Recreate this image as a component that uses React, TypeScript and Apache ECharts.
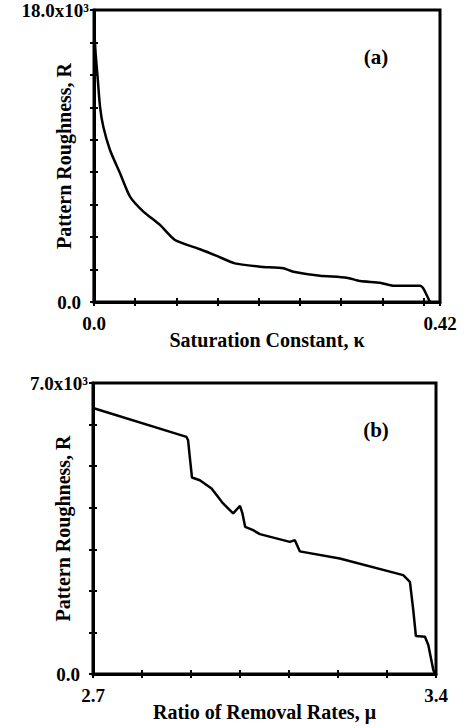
import React, { useEffect, useRef } from "react";
import * as echarts from "echarts";

// Panel (a): Saturation constant vs pattern roughness
const kappa = [0, 0.0008, 0.002, 0.004, 0.0073, 0.0113, 0.0194, 0.0316, 0.0437, 0.0599, 0.0801, 0.0983, 0.1287, 0.149, 0.171, 0.2015, 0.2298, 0.242, 0.2743, 0.3067, 0.3229, 0.3472, 0.3633, 0.3957, 0.3997, 0.4078];
const roughnessA = [0, 16300, 15300, 14100, 12040, 10800, 9370, 7930, 6490, 5570, 4750, 3820, 3250, 2840, 2380, 2180, 2080, 1870, 1620, 1500, 1290, 1190, 1005, 1005, 840, 0];

// Panel (b): Ratio of removal rates vs pattern roughness
const mu = [2.7, 2.8908, 2.894, 2.8975, 2.902, 2.918, 2.942, 2.9655, 2.986, 3.0, 3.005, 3.0105, 3.0268, 3.0405, 3.1017, 3.112, 3.122, 3.2036, 3.3331, 3.3468, 3.3536, 3.359, 3.3775, 3.3843, 3.3945, 3.398];
const roughnessB = [6400, 5703, 5623, 5222, 4727, 4662, 4462, 4102, 3862, 4045, 3862, 3540, 3460, 3364, 3179, 3220, 2950, 2780, 2379, 2218, 1538, 913, 896, 697, 96, 0];

// Tick labels (only end labels are printed)
const xLabelsA = ["0.0", "0.42"];
const yLabelsA = ["0.0", "18.0x10³"];
const xLabelsB = ["2.7", "3.4"];
const yLabelsB = ["0.0", "7.0x10³"];

const FONT = '"Liberation Serif", "Times New Roman", serif';

function endFormatter(min: number, max: number, labels: string[], richMin: boolean) {
  return (v: number) => {
    if (Math.abs(v - min) < 1e-9) return richMin ? `{b|${labels[0]}}` : labels[0];
    if (Math.abs(v - max) < 1e-9) return labels[1];
    return "";
  };
}

const tickLine = { color: "#000", width: 2 };

function mainX(gridIndex: number, min: number, max: number, interval: number, labels: string[], name: string) {
  return {
    type: "value",
    gridIndex,
    position: "bottom",
    min,
    max,
    interval,
    name,
    nameLocation: "middle",
    nameGap: 28,
    nameMoveOverlap: false,
    nameTextStyle: { fontFamily: FONT, fontWeight: "bold", fontSize: 20, color: "#000" },
    axisLine: { show: true, lineStyle: { color: "#000", width: 3 } },
    axisTick: { show: true, inside: false, length: 4, lineStyle: tickLine },
    axisLabel: {
      show: true,
      interval: 0,
      margin: 12,
      fontFamily: FONT,
      fontWeight: "bold",
      fontSize: 19,
      color: "#000",
      formatter: endFormatter(min, max, labels, false),
    },
    splitLine: { show: false },
  };
}

function innerX(gridIndex: number, min: number, max: number, interval: number) {
  return {
    type: "value",
    gridIndex,
    position: "bottom",
    offset: 0,
    min,
    max,
    interval,
    axisLine: { show: false },
    axisTick: { show: true, inside: true, length: 4, lineStyle: tickLine },
    axisLabel: { show: false },
    splitLine: { show: false },
  };
}

function mainY(gridIndex: number, min: number, max: number, interval: number, labels: string[], name: string) {
  return {
    type: "value",
    gridIndex,
    position: "left",
    min,
    max,
    interval,
    name,
    nameLocation: "middle",
    nameGap: 20,
    nameMoveOverlap: false,
    nameTextStyle: { fontFamily: FONT, fontWeight: "bold", fontSize: 20, color: "#000" },
    axisLine: { show: true, lineStyle: { color: "#000", width: 3 } },
    axisTick: { show: true, inside: false, length: 4, lineStyle: tickLine },
    axisLabel: {
      show: true,
      interval: 0,
      margin: 5,
      fontFamily: FONT,
      fontWeight: "bold",
      fontSize: 19,
      color: "#000",
      formatter: endFormatter(min, max, labels, true),
      rich: {
        b: { fontFamily: FONT, fontWeight: "bold", fontSize: 19, color: "#000", padding: [0, 8, 0, 0] },
      },
    },
    splitLine: { show: false },
  };
}

function innerY(gridIndex: number, min: number, max: number, interval: number) {
  return {
    type: "value",
    gridIndex,
    position: "left",
    offset: 0,
    min,
    max,
    interval,
    axisLine: { show: false },
    axisTick: { show: true, inside: true, length: 4, lineStyle: tickLine },
    axisLabel: { show: false },
    splitLine: { show: false },
  };
}

export default function App() {
  const ref = useRef<HTMLDivElement>(null);
  useEffect(() => {
    if (!ref.current) return;
    const chart = echarts.init(ref.current, null, { renderer: "svg" });
    const dataA = kappa.map((k, i) => [k, roughnessA[i]]);
    const dataB = mu.map((m, i) => [m, roughnessB[i]]);
    chart.setOption({
      animation: false,
      backgroundColor: "#fff",
      grid: [
        { left: 94, top: 10, width: 346, height: 292, show: true, borderColor: "#000", borderWidth: 3 },
        { left: 93, top: 383, width: 343, height: 291, show: true, borderColor: "#000", borderWidth: 3 },
      ],
      xAxis: [
        mainX(0, 0, 0.42, 0.05, xLabelsA, "Saturation Constant, κ"),
        innerX(0, 0, 0.42, 0.05),
        mainX(1, 2.7, 3.4, 0.1, xLabelsB, "Ratio of Removal Rates, μ"),
        innerX(1, 2.7, 3.4, 0.1),
      ],
      yAxis: [
        mainY(0, 0, 18000, 2000, yLabelsA, "Pattern Roughness, R"),
        innerY(0, 0, 18000, 2000),
        mainY(1, 0, 7000, 1000, yLabelsB, "Pattern Roughness, R"),
        innerY(1, 0, 7000, 1000),
      ],
      series: [
        {
          type: "line",
          xAxisIndex: 0,
          yAxisIndex: 0,
          data: dataA,
          showSymbol: false,
          smooth: 0.2,
          lineStyle: { color: "#000", width: 2.5 },
        },
        {
          type: "line",
          xAxisIndex: 2,
          yAxisIndex: 2,
          data: dataB,
          showSymbol: false,
          lineStyle: { color: "#000", width: 2.5 },
        },
      ],
      graphic: [
        {
          type: "text",
          x: 376,
          y: 57,
          style: { text: "(a)", fill: "#000", fontFamily: FONT, fontWeight: "bold", fontSize: 21, align: "center", verticalAlign: "middle" },
        },
        {
          type: "text",
          x: 376,
          y: 430,
          style: { text: "(b)", fill: "#000", fontFamily: FONT, fontWeight: "bold", fontSize: 21, align: "center", verticalAlign: "middle" },
        },
      ],
    });
    return () => chart.dispose();
  }, []);
  return <div ref={ref} style={{ position: "absolute", left: 0, top: 0, width: 470, height: 728 }} />;
}
